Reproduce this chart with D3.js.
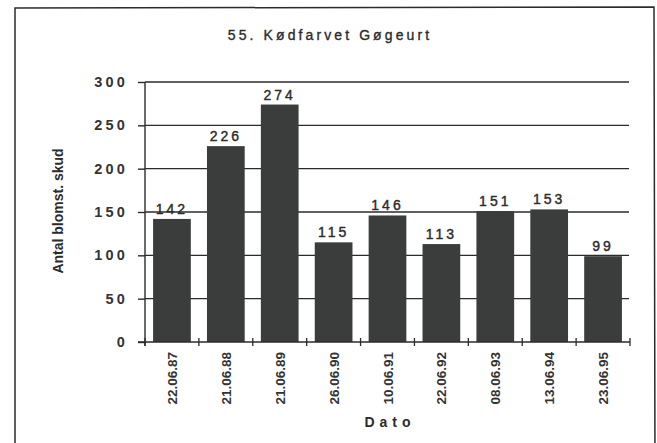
<!DOCTYPE html>
<html>
<head>
<meta charset="utf-8">
<script src="https://cdn.jsdelivr.net/npm/d3@7"></script>
<style>
  html, body { margin: 0; padding: 0; background: #fff; }
  svg { display: block; font-family: "Liberation Sans", Arial, sans-serif; }
</style>
</head>
<body>
<svg id="chart" width="657" height="443"></svg>
<script>
// Flowering shoots counted per survey date
const dates = ["22.06.87", "21.06.88", "21.06.89", "26.06.90", "10.06.91",
               "22.06.92", "08.06.93", "13.06.94", "23.06.95"];
const shoots = [142, 226, 274, 115, 146, 113, 151, 153, 99];
const yTicks = [0, 50, 100, 150, 200, 250, 300];

const title = "55. Kødfarvet Gøgeurt";
const yTitle = "Antal blomst. skud";
const xTitle = "Dato";

const svg = d3.select("#chart");
const ink = "#2b2b2b";
const barFill = "#3b3d3d";

const plot = { left: 145, right: 630, top: 82, bottom: 342 };

const x = d3.scaleBand()
  .domain(dates)
  .range([plot.left, plot.right])
  .paddingInner(0.3)
  .paddingOuter(0.15);

const y = d3.scaleLinear()
  .domain([0, 300])
  .range([plot.bottom, plot.top]);

// outer frame (bottom edge runs off the page)
svg.append("path")
  .attr("d", `M15,470 L15,8 L654,7 L655,470`)
  .attr("fill", "none")
  .attr("stroke", ink)
  .attr("stroke-width", 1.5);

// title
svg.append("text")
  .attr("x", 330).attr("y", 40)
  .attr("text-anchor", "middle")
  .attr("font-size", 14)
  .attr("letter-spacing", 3.1)
  .attr("fill", ink)
  .attr("stroke", ink)
  .attr("stroke-width", 0.35)
  .text(title);

// horizontal gridlines
svg.append("g")
  .selectAll("line")
  .data(yTicks.filter(v => v > 0))
  .join("line")
  .attr("x1", plot.left).attr("x2", plot.right - 1)
  .attr("y1", d => y(d)).attr("y2", d => y(d))
  .attr("stroke", ink)
  .attr("stroke-width", 1.4);

// bars
svg.append("g")
  .selectAll("rect")
  .data(dates)
  .join("rect")
  .attr("x", d => x(d))
  .attr("width", x.bandwidth())
  .attr("y", (d, i) => y(shoots[i]))
  .attr("height", (d, i) => y(0) - y(shoots[i]))
  .attr("fill", barFill);

// value labels
svg.append("g")
  .selectAll("text")
  .data(dates)
  .join("text")
  .attr("x", d => x(d) + x.bandwidth() / 2)
  .attr("y", (d, i) => y(shoots[i]) - 5)
  .attr("text-anchor", "middle")
  .attr("font-size", 14)
  .attr("letter-spacing", 3)
  .attr("fill", ink)
  .attr("stroke", ink)
  .attr("stroke-width", 0.4)
  .text((d, i) => shoots[i]);

// y axis
const yAxis = d3.axisLeft(y).tickValues(yTicks).tickSize(7).tickPadding(13);
const gy = svg.append("g")
  .attr("transform", `translate(${plot.left},0)`)
  .call(yAxis);
gy.select(".domain").attr("stroke", ink).attr("stroke-width", 1.4)
  .attr("d", `M0,${plot.top}V${plot.bottom + 4}`);
gy.selectAll(".tick line").attr("stroke", ink).attr("stroke-width", 1.4);
gy.selectAll(".tick text")
  .attr("font-size", 14.5)
  .attr("font-weight", "bold")
  .attr("letter-spacing", 3.2)
  .attr("fill", "#333")
  .attr("font-family", "Liberation Sans, Arial, sans-serif")
  .attr("dx", 3);

// x axis baseline and boundary ticks
svg.append("line")
  .attr("x1", plot.left - 7).attr("x2", plot.right)
  .attr("y1", y(0)).attr("y2", y(0))
  .attr("stroke", ink).attr("stroke-width", 1.4);

const step = x.step();
const bounds = d3.range(dates.length + 1).map(i => x(dates[0]) - x.paddingOuter() * step + i * step);
svg.append("g")
  .selectAll("line")
  .data(bounds)
  .join("line")
  .attr("x1", d => d).attr("x2", d => d)
  .attr("y1", y(0) - 4).attr("y2", y(0) + 4)
  .attr("stroke", ink).attr("stroke-width", 1.3);

// rotated date labels
svg.append("g")
  .selectAll("text")
  .data(dates)
  .join("text")
  .attr("transform", d => `translate(${x(d) + x.bandwidth() / 2 + 5},352) rotate(-90)`)
  .attr("text-anchor", "end")
  .attr("font-size", 13.5)
  .attr("font-weight", "bold")
  .attr("fill", "#333")
  .text(d => d);

// axis titles
svg.append("text")
  .attr("transform", `translate(63,211) rotate(-90)`)
  .attr("text-anchor", "middle")
  .attr("font-size", 14)
  .attr("font-weight", "bold")
  .attr("fill", ink)
  .text(yTitle);

svg.append("text")
  .attr("x", 390).attr("y", 427)
  .attr("text-anchor", "middle")
  .attr("font-size", 14)
  .attr("font-weight", "bold")
  .attr("letter-spacing", 5)
  .attr("fill", ink)
  .text(xTitle);
</script>
</body>
</html>
